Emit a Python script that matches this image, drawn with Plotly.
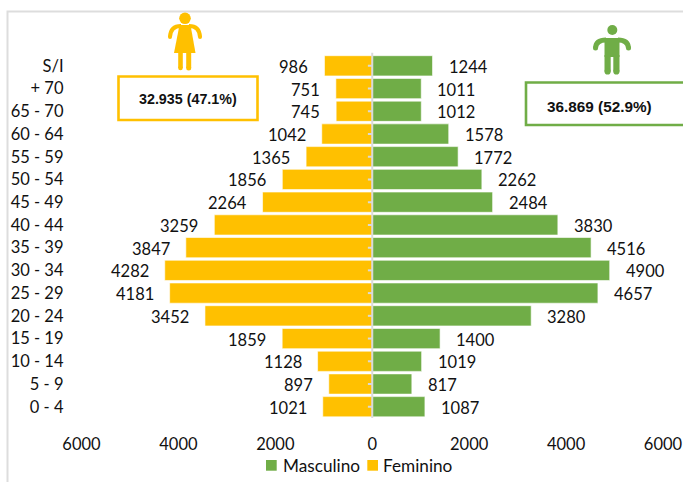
import plotly.graph_objects as go

categories = ["S/I", "+ 70", "65 - 70", "60 - 64", "55 - 59", "50 - 54", "45 - 49", "40 - 44", "35 - 39",
              "30 - 34", "25 - 29", "20 - 24", "15 - 19", "10 - 14", "5 - 9", "0 - 4"]
masculino = [1244, 1011, 1012, 1578, 1772, 2262, 2484, 3830, 4516, 4900, 4657, 3280, 1400, 1019, 817, 1087]
feminino = [986, 751, 745, 1042, 1365, 1856, 2264, 3259, 3847, 4282, 4181, 3452, 1859, 1128, 897, 1021]
tick_vals = [-6000, -4000, -2000, 0, 2000, 4000, 6000]
tick_text = ["6000", "4000", "2000", "0", "2000", "4000", "6000"]
GREEN = "#70AD47"
GOLD = "#FFC000"
AXIS = "#D9D9D9"
INK = "#111111"
FONT = "Lato"
FS = 16.5
BOLD_FONT = "Liberation Sans Narrow, Liberation Sans"
W, H = 683, 482

fig = go.Figure()
fig.add_bar(name="Masculino", y=categories, x=masculino, orientation="h", showlegend=False,
            marker=dict(color=GREEN, line=dict(color="white", width=0.6)))
fig.add_bar(name="Feminino", y=categories, x=[-v for v in feminino], orientation="h", showlegend=False,
            marker=dict(color=GOLD, line=dict(color="white", width=0.6)))


def paper_text(x, y, text, family=FONT, size=FS, anchor="center"):
    return dict(x=x/W, y=1-y/H, xref="paper", yref="paper", text=text, showarrow=False,
                xanchor=anchor, yanchor="middle", font=dict(family=family, size=size, color=INK))


annotations = []
for c, m, f in zip(categories, masculino, feminino):
    annotations.append(dict(x=m, y=c, xref="x", yref="y", text=str(m), showarrow=False, xanchor="left", xshift=14, yshift=-1,
                            font=dict(family=FONT, size=FS, color=INK)))
    annotations.append(dict(x=-f, y=c, xref="x", yref="y", text=str(f), showarrow=False, xanchor="right", xshift=-14, yshift=-1,
                            font=dict(family=FONT, size=FS, color=INK)))
annotations += [
    paper_text(187.5, 99, "<b>32.935 (47.1%)</b>", BOLD_FONT, 14.3),
    paper_text(599.5, 106, "<b>36.869 (52.9%)</b>", BOLD_FONT, 15.3),
    paper_text(281, 465, "Masculino", FONT, 17.2, "left"),
    paper_text(381, 465, "Feminino", FONT, 17.2, "left"),
]


def pt(x, y):
    return f"{x/W:.5f},{1-y/H:.5f}"


def rect(x0, y0, x1, y1, **kw):
    return dict(type="rect", xref="paper", yref="paper", x0=x0/W, x1=x1/W, y0=1-y0/H, y1=1-y1/H, **kw)


def circle(cx, cy, r, color):
    return dict(type="circle", xref="paper", yref="paper", x0=(cx-r)/W, x1=(cx+r)/W, y0=1-(cy+r)/H, y1=1-(cy-r)/H,
                fillcolor=color, line=dict(width=0))


def poly(points, color):
    d = "M " + " L ".join(pt(*p) for p in points) + " Z"
    return dict(type="path", xref="paper", yref="paper", path=d, fillcolor=color, line=dict(width=0))


def stroke(points, color, w):
    d = "M " + " L ".join(pt(*p) for p in points)
    return dict(type="path", xref="paper", yref="paper", path=d, line=dict(color=color, width=w))


def arm(a, ctrl, b, color, w):
    d = f"M {pt(*a)} Q {pt(*ctrl)} {pt(*b)}"
    return dict(type="path", xref="paper", yref="paper", path=d, line=dict(color=color, width=w))


shapes = [
    stroke([(7.5, 482), (7.5, 11.5), (683, 11.5)], "#DDDDDD", 2),
    rect(118.5, 76.5, 257.5, 120, line=dict(color=GOLD, width=2.6)),
    rect(526, 82.5, 690, 125, line=dict(color=GREEN, width=2.6)),
    # woman icon
    circle(185, 18.3, 5.8, GOLD),
    poly([(179.5, 25), (190.5, 25), (195.5, 53), (174, 53)], GOLD),
    arm((181, 26), (170.5, 26), (170, 37), GOLD, 4),
    arm((189, 26), (199.5, 26), (200, 37), GOLD, 4),
    circle(170, 37, 2, GOLD), circle(200, 37, 2, GOLD),
    stroke([(180.5, 52), (180.5, 68)], GOLD, 4.6),
    stroke([(188.7, 52), (188.7, 68)], GOLD, 5),
    circle(180.5, 68, 2.3, GOLD), circle(188.7, 68, 2.5, GOLD),
    # man icon
    circle(612.3, 30, 5, GREEN),
    poly([(604.5, 38), (619.5, 38), (619.5, 57), (604.5, 57)], GREEN),
    arm((606, 40), (596, 40), (595.5, 48), GREEN, 5),
    arm((618, 40), (628, 40), (628.5, 48), GREEN, 5),
    circle(595.5, 48, 2.5, GREEN), circle(628.5, 48, 2.5, GREEN),
    stroke([(607.6, 55), (607.6, 71.5)], GREEN, 6.2),
    stroke([(616.4, 55), (616.4, 71.5)], GREEN, 6.2),
    circle(607.6, 71.5, 3.1, GREEN), circle(616.4, 71.5, 3.1, GREEN),
    # legend swatches
    rect(266, 460, 276.7, 470.7, fillcolor=GREEN, line=dict(width=0)),
    rect(367.3, 460, 378, 470.7, fillcolor=GOLD, line=dict(width=0)),
    # central axis line
    dict(type="line", xref="x", yref="paper", x0=0, x1=0, y0=1-418.1/H, y1=1-52.8/H, line=dict(color=AXIS, width=2)),
]
for c in categories:
    shapes.append(dict(type="line", xref="x", yref="y", x0=-90, x1=0, y0=c, y1=c, line=dict(color=AXIS, width=2)))

fig.update_layout(
    width=W, height=H, autosize=False,
    margin=dict(l=0, r=0, t=0, b=0, pad=0, autoexpand=False),
    paper_bgcolor="white", plot_bgcolor="white",
    barmode="overlay", bargap=0.11, showlegend=False,
    font=dict(family=FONT, size=FS, color=INK),
    annotations=annotations, shapes=shapes,
    xaxis=dict(domain=[81.5/W, 663/W], range=[-6000, 6000], tickvals=tick_vals, ticktext=tick_text,
               showgrid=False, zeroline=False, showline=False, ticks="",
               anchor="y", tickfont=dict(family=FONT, size=FS, color=INK), ticklabelstandoff=14),
    yaxis=dict(domain=[1-418.1/H, 1-52.8/H], autorange="reversed", categoryorder="array", categoryarray=categories,
               showgrid=False, zeroline=False, showline=False, ticks="", ticklabelstandoff=17,
               tickfont=dict(family=FONT, size=FS, color=INK)),
)
fig.write_html("out.html", config={"displayModeBar": False},
               post_script="document.body.style.margin='0';document.documentElement.style.overflow='hidden';")
